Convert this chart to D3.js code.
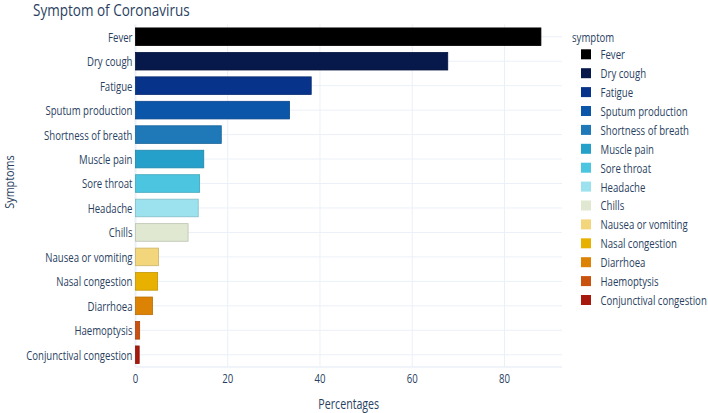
<!DOCTYPE html>
<html>
<head>
<meta charset="utf-8">
<script src="https://cdn.jsdelivr.net/npm/d3@7"></script>
<style>
  body { margin: 0; background: #fff; }
  text { font-family: "Open Sans", "Noto Sans", sans-serif; fill: #2a3f5f; }
</style>
</head>
<body>
<div id="chart"></div>
<script>
// data
const symptoms = ["Fever", "Dry cough", "Fatigue", "Sputum production", "Shortness of breath",
  "Muscle pain", "Sore throat", "Headache", "Chills", "Nausea or vomiting",
  "Nasal congestion", "Diarrhoea", "Haemoptysis", "Conjunctival congestion"];
const percentages = [87.9, 67.7, 38.1, 33.4, 18.6, 14.8, 13.9, 13.6, 11.4, 5.0, 4.8, 3.7, 0.9, 0.8];
const colors = ["#000000", "#07194a", "#07348a", "#0b56a8", "#1f78b8", "#24a0ca", "#4cc6e0",
  "#9be2ee", "#e0e8d2", "#f3d67c", "#e8b100", "#dc8305", "#c9520e", "#a8190d"];
const xTicks = [0, 20, 40, 60, 80];

const width = 708, height = 413;
const margin = { top: 24.5, right: 146, bottom: 46, left: 135.5 };
const sx = 0.8; // text in the picture is squeezed sideways

const svg = d3.select("#chart").append("svg")
  .attr("width", width)
  .attr("height", height);

const x = d3.scaleLinear()
  .domain([0, d3.max(percentages) * 1.052])
  .range([margin.left, width - margin.right]);

const y = d3.scaleBand()
  .domain(symptoms)
  .range([margin.top, height - margin.bottom])
  .paddingInner(0.28)
  .paddingOuter(0.14);

const squeeze = (sel, fx, fy) =>
  sel.attr("x", 0).attr("y", 0)
    .attr("transform", (d, i) => `translate(${fx(d, i)},${fy(d, i)}) scale(${sx},1)`);

// grid
const grid = svg.append("g");
grid.selectAll(".hgrid")
  .data(symptoms)
  .join("line")
  .attr("x1", margin.left).attr("x2", width - margin.right)
  .attr("y1", d => y(d) + y.bandwidth() / 2)
  .attr("y2", d => y(d) + y.bandwidth() / 2)
  .attr("stroke", "#ebf0f8").attr("stroke-width", 1);
grid.selectAll(".vgrid")
  .data(xTicks.slice(1))
  .join("line")
  .attr("x1", d => x(d)).attr("x2", d => x(d))
  .attr("y1", margin.top).attr("y2", height - margin.bottom)
  .attr("stroke", "#ebf0f8").attr("stroke-width", 1);
// zero line + bottom
grid.append("line")
  .attr("x1", x(0)).attr("x2", x(0))
  .attr("y1", margin.top).attr("y2", height - margin.bottom)
  .attr("stroke", "#ebf0f8").attr("stroke-width", 2);
grid.append("line")
  .attr("x1", margin.left).attr("x2", width - margin.right)
  .attr("y1", height - margin.bottom).attr("y2", height - margin.bottom)
  .attr("stroke", "#ebf0f8").attr("stroke-width", 1.5);

// bars
svg.append("g")
  .selectAll("rect")
  .data(symptoms)
  .join("rect")
  .attr("x", x(0))
  .attr("y", d => y(d))
  .attr("width", (d, i) => x(percentages[i]) - x(0))
  .attr("height", y.bandwidth())
  .attr("fill", (d, i) => colors[i])
  .attr("stroke", (d, i) => d3.color(colors[i]).darker(0.5))
  .attr("stroke-width", 0.8);

// y tick labels
svg.append("g")
  .selectAll("text")
  .data(symptoms)
  .join("text")
  .text(d => d)
  .attr("font-size", 12)
  .attr("text-anchor", "end")
  .attr("dominant-baseline", "central")
  .call(squeeze, () => margin.left - 3, d => y(d) + y.bandwidth() / 2);

// x tick labels
svg.append("g")
  .selectAll("text")
  .data(xTicks)
  .join("text")
  .text(d => d)
  .attr("font-size", 12)
  .attr("text-anchor", "middle")
  .attr("dominant-baseline", "central")
  .call(squeeze, d => x(d), () => height - margin.bottom + 11);

// axis titles
svg.append("text")
  .text("Percentages")
  .attr("font-size", 14)
  .attr("text-anchor", "middle")
  .attr("dominant-baseline", "central")
  .attr("transform", `translate(${(x.range()[0] + x.range()[1]) / 2},${height - 9}) scale(0.76,1)`);

svg.append("text")
  .text("Symptoms")
  .attr("font-size", 13.5)
  .attr("text-anchor", "middle")
  .attr("dominant-baseline", "central")
  .attr("transform", `translate(9.5,182) rotate(-90) scale(0.8,1)`);

// title
svg.append("text")
  .text("Symptom of Coronavirus")
  .attr("font-size", 16.5)
  .attr("transform", `translate(33,16) scale(0.82,1)`);

// legend
const legend = svg.append("g");
legend.append("text")
  .text("symptom")
  .attr("font-size", 12)
  .attr("dominant-baseline", "central")
  .attr("transform", `translate(572,37) scale(${sx},1)`);
const item = legend.selectAll(".item")
  .data(symptoms)
  .join("g")
  .attr("transform", (d, i) => `translate(581,${54.3 + i * 18.9})`);
item.append("rect")
  .attr("x", 0).attr("y", -5)
  .attr("width", 10).attr("height", 10)
  .attr("fill", (d, i) => colors[i]);
item.append("text")
  .text(d => d)
  .attr("font-size", 12)
  .attr("dominant-baseline", "central")
  .attr("transform", `translate(19.5,0) scale(${sx},1)`);
</script>
</body>
</html>
